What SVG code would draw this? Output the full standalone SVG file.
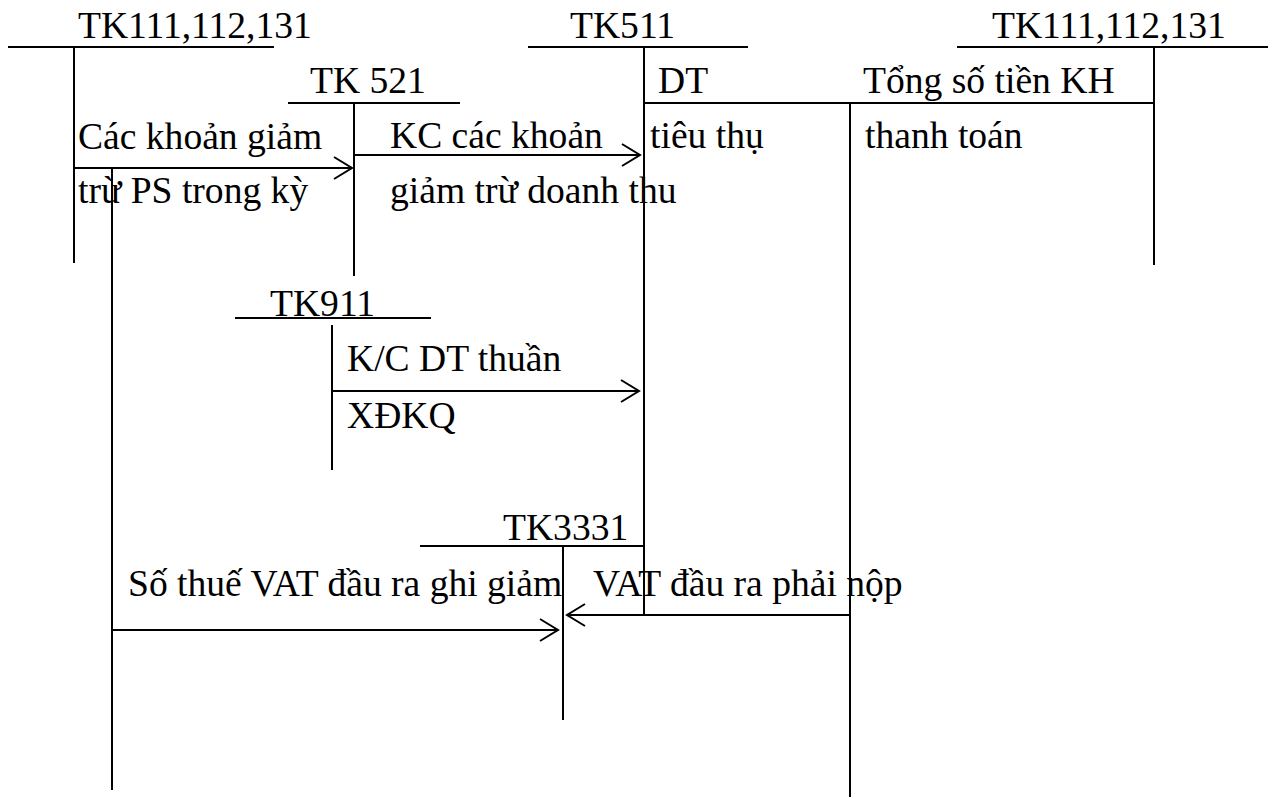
<svg xmlns="http://www.w3.org/2000/svg" width="1272" height="799" viewBox="0 0 1272 799">
  <style>
    .ln { stroke: #000; stroke-width: 2; fill: none; }
    .tx { font-family: "Liberation Serif", "Times New Roman", serif; font-size: 37.6px; fill: #000; }
  </style>
  <defs>
    <marker id="open-arrow" viewBox="-20 -12 22 24" refX="0" refY="0" markerWidth="22" markerHeight="24" markerUnits="userSpaceOnUse" orient="auto">
      <path d="M-18,-11 L0,0 L-18,11" stroke="#000" stroke-width="2" fill="none"/>
    </marker>
  </defs>
  <rect width="1272" height="799" fill="#fff"/>

  <!-- T-accounts -->
  <g id="tk111-left">
    <line class="ln" x1="8" y1="47" x2="274" y2="47"/>
    <line class="ln" x1="74" y1="47" x2="74" y2="263"/>
    <text class="tx" x="78" y="38">TK111,112,131</text>
  </g>
  <g id="tk521">
    <line class="ln" x1="288" y1="103" x2="460" y2="103"/>
    <line class="ln" x1="354" y1="103" x2="354" y2="276"/>
    <text class="tx" x="310" y="93">TK 521</text>
  </g>
  <g id="tk511">
    <line class="ln" x1="528" y1="47" x2="748" y2="47"/>
    <line class="ln" x1="644" y1="47" x2="644" y2="615"/>
    <text class="tx" x="570" y="38">TK511</text>
  </g>
  <g id="tk111-right">
    <line class="ln" x1="957" y1="47" x2="1268" y2="47"/>
    <line class="ln" x1="1154" y1="47" x2="1154" y2="265"/>
    <text class="tx" x="992" y="38">TK111,112,131</text>
  </g>
  <g id="tk911">
    <line class="ln" x1="235" y1="318" x2="431" y2="318"/>
    <line class="ln" x1="332" y1="325" x2="332" y2="470"/>
    <text class="tx" x="270" y="316">TK911</text>
  </g>
  <g id="tk3331">
    <line class="ln" x1="420" y1="546" x2="644" y2="546"/>
    <line class="ln" x1="563" y1="546" x2="563" y2="720"/>
    <text class="tx" x="503" y="540">TK3331</text>
  </g>

  <!-- Entries between accounts -->
  <g id="connectors">
    <!-- discounts incurred: TK111 -> TK521 -->
    <line class="ln" x1="74" y1="168" x2="352" y2="168" marker-end="url(#open-arrow)"/>
    <!-- closing discounts: TK521 -> TK511 -->
    <line class="ln" x1="354" y1="155" x2="640" y2="155" marker-end="url(#open-arrow)"/>
    <!-- revenue: TK511 <-> TK111 right -->
    <line class="ln" x1="644" y1="103" x2="1153" y2="103"/>
    <line class="ln" x1="850" y1="103" x2="850" y2="797"/>
    <!-- net revenue: TK911 -> TK511 -->
    <line class="ln" x1="332" y1="391" x2="639" y2="391" marker-end="url(#open-arrow)"/>
    <!-- output VAT payable -> TK3331 -->
    <line class="ln" x1="850" y1="615" x2="567" y2="615" marker-end="url(#open-arrow)"/>
    <!-- output VAT reduced -> TK3331 -->
    <line class="ln" x1="112" y1="168" x2="112" y2="790"/>
    <line class="ln" x1="112" y1="630" x2="558" y2="630" marker-end="url(#open-arrow)"/>
  </g>

  <g id="labels">
    <text class="tx" x="78" y="149">Các khoản giảm</text>
    <text class="tx" x="78" y="203">trừ PS trong kỳ</text>
    <text class="tx" x="390" y="148">KC các khoản</text>
    <text class="tx" x="390" y="203">giảm trừ doanh thu</text>
    <text class="tx" x="658" y="93">DT</text>
    <text class="tx" x="650" y="148">tiêu thụ</text>
    <text class="tx" x="863" y="93">Tổng số tiền KH</text>
    <text class="tx" x="865" y="148">thanh toán</text>
    <text class="tx" x="347" y="371">K/C DT thuần</text>
    <text class="tx" x="347" y="428">XĐKQ</text>
    <text class="tx" x="128" y="596">Số thuế VAT đầu ra ghi giảm</text>
    <text class="tx" x="593" y="596">VAT đầu ra phải nộp</text>
  </g>
</svg>
